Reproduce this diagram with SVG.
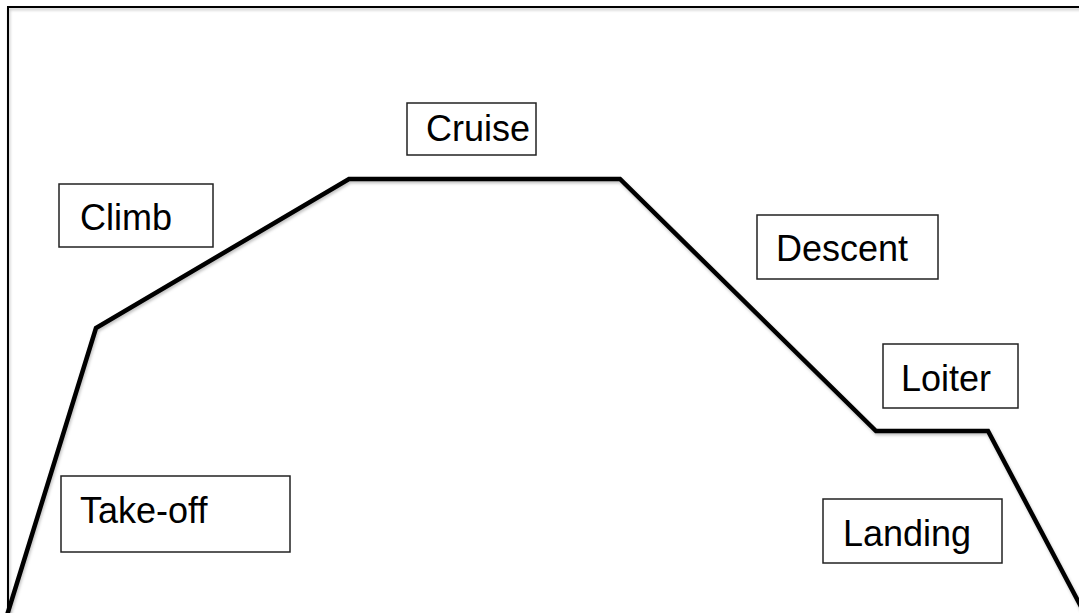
<svg xmlns="http://www.w3.org/2000/svg" width="1079" height="613" viewBox="0 0 1079 613">
  <defs>
    <filter id="shadow" x="-5%" y="-5%" width="110%" height="110%">
      <feDropShadow dx="1" dy="2" stdDeviation="1.5" flood-color="#000" flood-opacity="0.25"/>
    </filter>
  </defs>
  <style>
    .box { fill: #ffffff; stroke: #222222; stroke-width: 1.5; }
    .lbl { font-family: "Liberation Sans", Arial, sans-serif; font-size: 36px; fill: #000000; }
    .frame { fill: none; stroke: #000000; stroke-width: 2; }
    .profile { fill: none; stroke: #000000; stroke-width: 4.5; stroke-linejoin: miter; }
  </style>
  <rect x="0" y="0" width="1079" height="613" fill="#ffffff"/>
  <g id="frame" filter="url(#shadow)">
    <path class="frame" d="M8,620 L8,7 L1085,7"/>
  </g>
  <g id="connectors" filter="url(#shadow)">
    <path class="profile" d="M4,625 L96,328 L349,179 L620,179 L876,431 L988,431 L1086,616"/>
  </g>
  <g id="node-climb">
    <rect class="box" x="59" y="184" width="154" height="63"/>
    <text class="lbl" x="80" y="230">Climb</text>
  </g>
  <g id="node-cruise">
    <rect class="box" x="407" y="103" width="129" height="52"/>
    <text class="lbl" x="426" y="141">Cruise</text>
  </g>
  <g id="node-descent">
    <rect class="box" x="757" y="215" width="181" height="64"/>
    <text class="lbl" x="776" y="261">Descent</text>
  </g>
  <g id="node-loiter">
    <rect class="box" x="883" y="344" width="135" height="64"/>
    <text class="lbl" x="901" y="391">Loiter</text>
  </g>
  <g id="node-landing">
    <rect class="box" x="823" y="499" width="179" height="64"/>
    <text class="lbl" x="843" y="546">Landing</text>
  </g>
  <g id="node-takeoff">
    <rect class="box" x="61" y="476" width="229" height="76"/>
    <text class="lbl" x="80" y="523">Take-off</text>
  </g>
</svg>
